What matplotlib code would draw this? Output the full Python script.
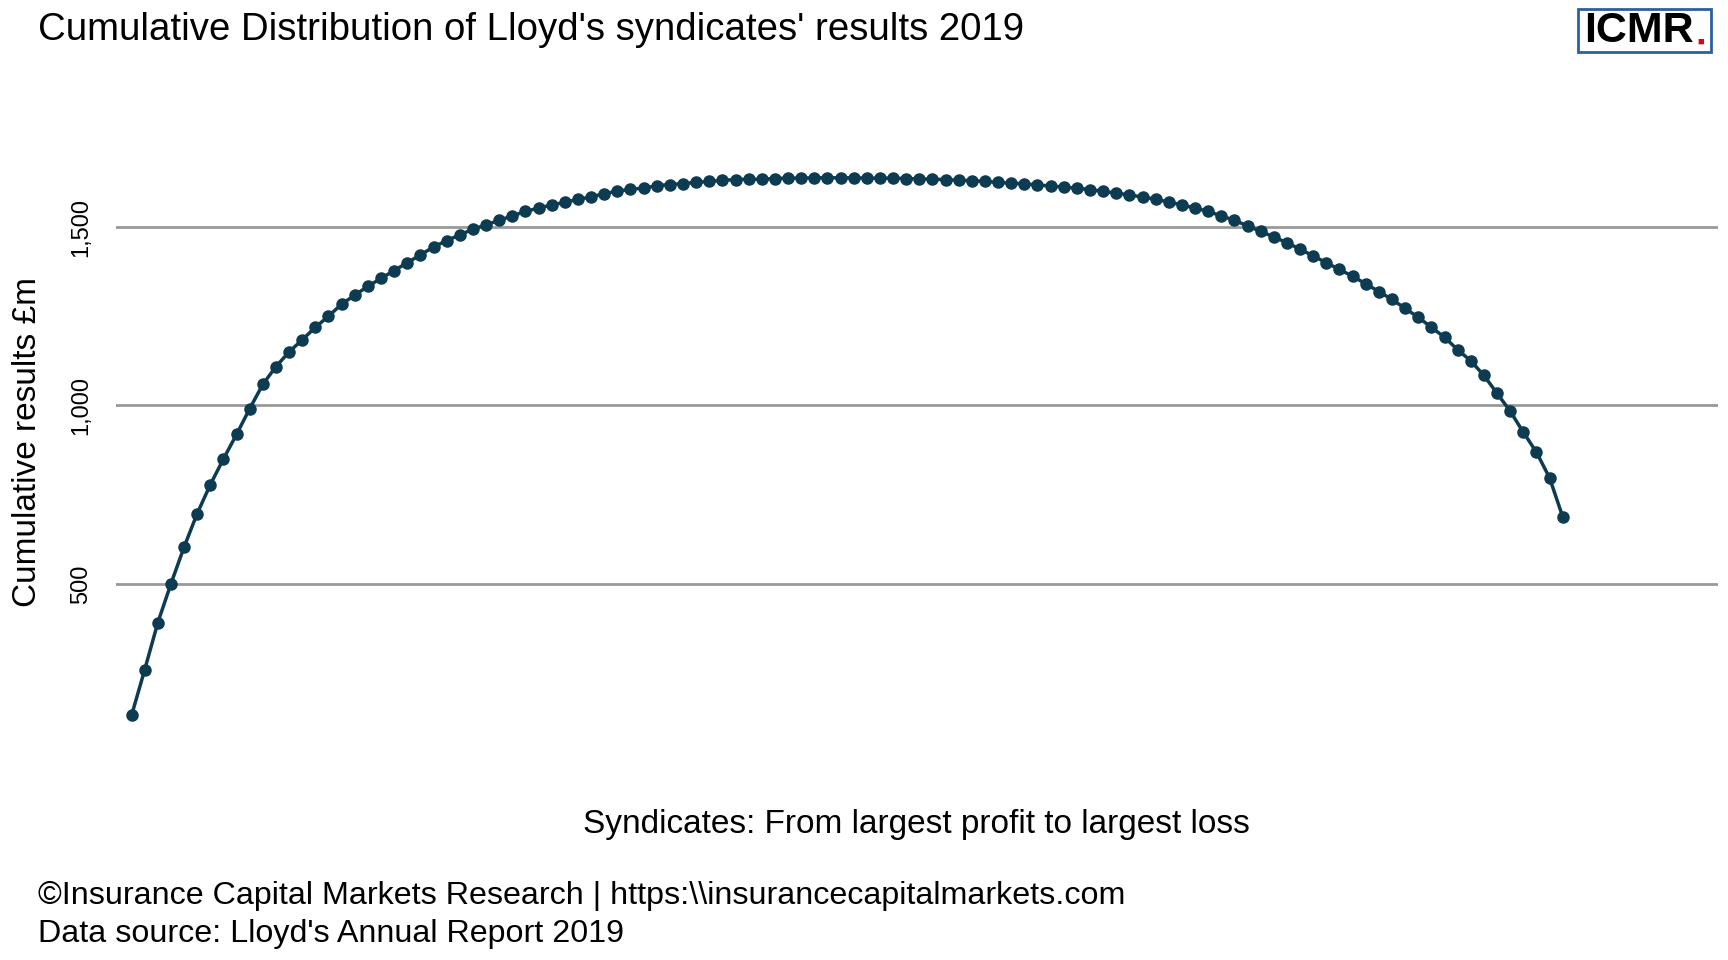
import matplotlib
matplotlib.use("Agg")
import matplotlib.pyplot as plt
from matplotlib.patches import Rectangle

plt.rcParams["font.family"] = "Liberation Sans"

cum_results = [131, 259, 391, 500, 603, 697, 778, 850, 919, 991, 1059, 1109, 1150, 1184,
               1219, 1250, 1284, 1309, 1334, 1356, 1378, 1400, 1422, 1444, 1462, 1478, 1494,
               1506, 1519, 1531, 1544, 1553, 1562, 1569, 1578, 1584, 1594, 1600, 1606, 1609,
               1616, 1619, 1622, 1625, 1628, 1631, 1633, 1634, 1634, 1636,
               1637, 1637, 1638, 1638, 1638, 1638, 1637, 1637, 1637, 1636, 1635, 1634, 1633,
               1631, 1630, 1628, 1625, 1623, 1621, 1618, 1615, 1612, 1609, 1605, 1600, 1595,
               1590, 1584, 1578, 1570, 1562, 1553, 1544, 1531, 1519, 1503, 1488, 1472, 1456,
               1438, 1419, 1400, 1381, 1362, 1341, 1319, 1297, 1272, 1247, 1219, 1191, 1156,
               1125, 1084, 1034, 984, 925, 869, 797, 688]
syndicate_idx = list(range(len(cum_results)))
yticks = [500, 1000, 1500]
ytick_labels = ["500", "1,000", "1,500"]

fig = plt.figure(figsize=(17.28, 9.6), dpi=100)
ax = fig.add_axes([0.067, 0.206, 0.927, 0.669])
ax.plot(syndicate_idx, cum_results, color="#0d3b52", lw=2.5, marker="o", ms=8, zorder=3)
ax.set_xlim(-1.2, len(cum_results) - 1 + 11.8)
ax.set_ylim(0, 1800)
ax.set_yticks(yticks)
ax.set_yticklabels(ytick_labels, rotation=90, va="center", fontsize=17)
ax.set_xticks([])
ax.grid(axis="y", color="#999999", lw=2)
ax.set_axisbelow(True)
for s in ax.spines.values():
    s.set_visible(False)
ax.tick_params(axis="y", length=0, pad=17)
fig.text(0.016, 0.54, "Cumulative results £m", fontsize=24, rotation=90, va="center", ha="center")
ax.set_xlabel("Syndicates: From largest profit to largest loss", fontsize=24, labelpad=34)

fig.text(0.022, 0.969, "Cumulative Distribution of Lloyd's syndicates' results 2019", fontsize=27.6, va="center")
fig.text(0.022, 0.067, "©Insurance Capital Markets Research | https:\\\\insurancecapitalmarkets.com", fontsize=23.2, va="center")
fig.text(0.022, 0.027, "Data source: Lloyd's Annual Report 2019", fontsize=23.2, va="center")

fig.patches.append(Rectangle((0.913, 0.946), 0.077, 0.045, transform=fig.transFigure,
                             fill=False, edgecolor="#2c5f9e", lw=2))
fig.text(0.9165, 0.968, "ICMR", fontsize=31, fontweight="bold", va="center", ha="left")
fig.text(0.9825, 0.957, "■", fontsize=8, color="#e3001b", va="center", ha="left")

fig.savefig("out.png", dpi=100)
